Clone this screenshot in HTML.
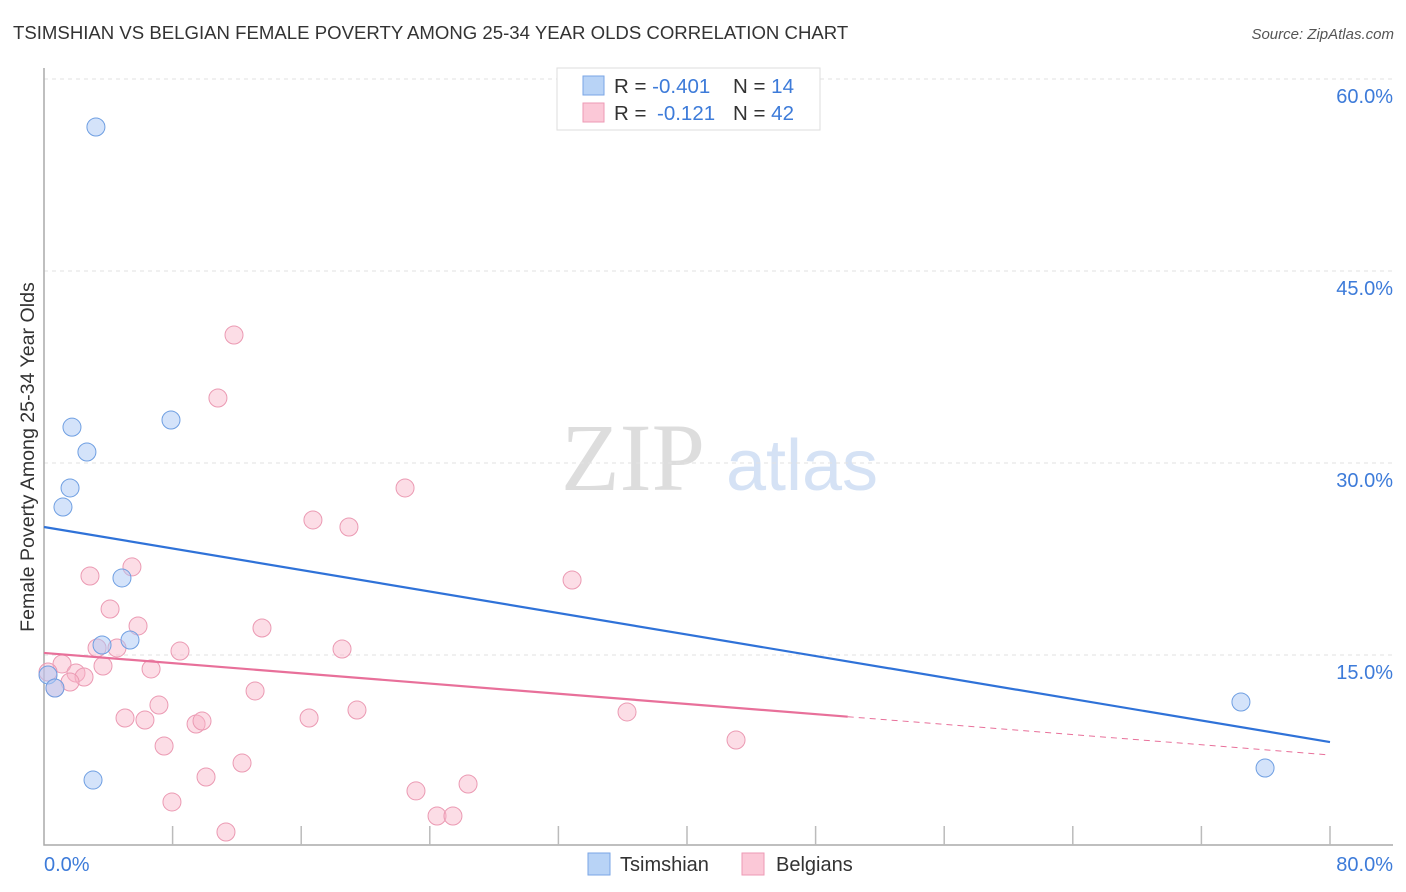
<!DOCTYPE html>
<html><head><meta charset="utf-8"><style>
body{margin:0;background:#fff;font-family:"Liberation Sans",sans-serif}
svg{display:block}
</style></head><body>
<svg id="c" width="1406" height="892" xmlns="http://www.w3.org/2000/svg">
<text x="13" y="39" font-size="18.6" fill="#333">TSIMSHIAN VS BELGIAN FEMALE POVERTY AMONG 25-34 YEAR OLDS CORRELATION CHART</text>
<text x="1394" y="39" font-size="15" fill="#555" font-style="italic" text-anchor="end">Source: ZipAtlas.com</text>
<text x="633" y="490" font-size="96" fill="#ddd" font-family="Liberation Serif" text-anchor="middle">ZIP</text>
<text x="802" y="490" font-size="72" fill="#d5e2f5" text-anchor="middle">atlas</text>
<text transform="translate(34,457) rotate(-90)" font-size="19.6" fill="#333" text-anchor="middle">Female Poverty Among 25-34 Year Olds</text>
<g id="grid"></g><g id="marks"></g>
<g>
<rect x="557" y="68" width="263" height="62" fill="#fff" stroke="#ddd"/>
<rect x="583" y="76" width="21" height="19" fill="#b8d3f6" stroke="#7aa6e6"/>
<rect x="583" y="103" width="21" height="19" fill="#fbc8d7" stroke="#ee9ab4"/>
<text x="614" y="93" font-size="20.5" fill="#333">R = <tspan fill="#3d7bd9">-0.401</tspan><tspan x="733">N = </tspan><tspan fill="#3d7bd9">14</tspan></text>
<text x="614" y="120" font-size="20.5" fill="#333">R = <tspan x="657" fill="#3d7bd9">-0.121</tspan><tspan x="733">N = </tspan><tspan fill="#3d7bd9">42</tspan></text>
</g>
<g>
<rect x="588" y="853" width="22" height="22" fill="#b8d3f6" stroke="#7aa6e6"/>
<text x="620" y="871" font-size="20" fill="#333">Tsimshian</text>
<rect x="742" y="853" width="22" height="22" fill="#fbc8d7" stroke="#ee9ab4"/>
<text x="776" y="871" font-size="20" fill="#333">Belgians</text>
</g>
</svg>
<script>
const yTicks=[15,30,45,60];
const yTickLabels=["15.0%","30.0%","45.0%","60.0%"];
const xTickLabels=["0.0%","80.0%"];
const blueX=[3.23,1.74,2.67,1.62,1.18,7.90,4.85,3.61,5.35,0.25,0.68,3.05,74.46,75.96];
const blueY=[56.25,32.8,30.86,28.05,26.56,33.36,21.02,15.78,16.17,13.44,12.42,5.23,11.33,6.17];
const pinkX=[11.82,10.82,22.46,16.73,18.97,32.85,5.47,2.86,4.11,5.85,13.56,4.54,8.46,18.54,1.12,3.67,1.99,2.49,6.66,1.62,0.68,13.13,7.15,19.47,36.27,5.04,6.28,16.49,9.46,9.83,7.47,43.05,12.32,10.08,23.14,26.38,7.96,11.32,24.45,25.44,3.30,0.25];
const pinkY=[40.0,35.08,28.05,25.55,25.0,20.86,21.88,21.17,18.59,17.27,17.11,15.55,15.31,15.47,14.30,14.14,13.59,13.28,13.91,12.89,12.42,12.19,11.09,10.70,10.55,10.08,9.92,10.08,9.61,9.84,7.89,8.36,6.56,5.47,4.38,4.92,3.52,1.17,2.42,2.42,15.55,13.67];
const blueTrend=[25.0,8.2];
const pinkTrend=[15.16,7.19];
const pinkSolidEnd=50;
const NS="http://www.w3.org/2000/svg";
const X=v=>44+v*16.075, Y=v=>847-v*12.8;
function mk(p,t,a){const e=document.createElementNS(NS,t);for(const k in a)e.setAttribute(k,a[k]);p.appendChild(e);return e;}
const g=document.getElementById('grid'),m=document.getElementById('marks');
yTicks.forEach((t,i)=>{
 const l=mk(g,'line',{x1:44,x2:1393,y1:Y(t),y2:Y(t),stroke:'#e2e2e2','stroke-dasharray':'4,4'});
 
 
 const tx=mk(g,'text',{x:1393,y:Y(t)+24,'font-size':20,fill:'#3d7bd9','text-anchor':'end'});tx.textContent=yTickLabels[i];
 
 
});
mk(g,'line',{x1:44,x2:1393,y1:79,y2:79,stroke:'#e2e2e2','stroke-dasharray':'4,4'});
const ax=mk(g,'path',{d:'M44,68V845H1393',fill:'none',stroke:'#aaa','stroke-width':1.5});


for(let i=1;i<=10;i++){const x=X(i*8);const t=mk(g,'line',{x1:x,x2:x,y1:826,y2:845,stroke:'#bbb','stroke-width':1.5});
 
 }
[[0,'start',44],[80,'end',1393]].forEach((d,i)=>{const t=mk(g,'text',{x:d[2],y:871,'font-size':20,fill:'#3d7bd9','text-anchor':d[1]});t.textContent=xTickLabels[i];
 
 });
pinkX.forEach((x,i)=>{const c=mk(m,'circle',{cx:X(x),cy:Y(pinkY[i]),r:9,fill:'rgba(248,180,200,0.45)',stroke:'#eb9ab3','stroke-width':1});
 
 });
blueX.forEach((x,i)=>{const c=mk(m,'circle',{cx:X(x),cy:Y(blueY[i]),r:9,fill:'rgba(170,200,245,0.5)',stroke:'#6f9fe2','stroke-width':1});
 
 });
const bl=mk(m,'line',{x1:X(0),y1:Y(blueTrend[0]),x2:X(80),y2:Y(blueTrend[1]),stroke:'#2f72d8','stroke-width':2.2});


const pm=pinkTrend[0]+(pinkTrend[1]-pinkTrend[0])*pinkSolidEnd/80;
const pl=mk(m,'line',{x1:X(0),y1:Y(pinkTrend[0]),x2:X(pinkSolidEnd),y2:Y(pm),stroke:'#e8709a','stroke-width':2.2});


const pd=mk(m,'line',{x1:X(pinkSolidEnd),y1:Y(pm),x2:X(80),y2:Y(pinkTrend[1]),stroke:'#e8709a','stroke-width':1,'stroke-dasharray':'6,5'});


</script>
</body></html>
